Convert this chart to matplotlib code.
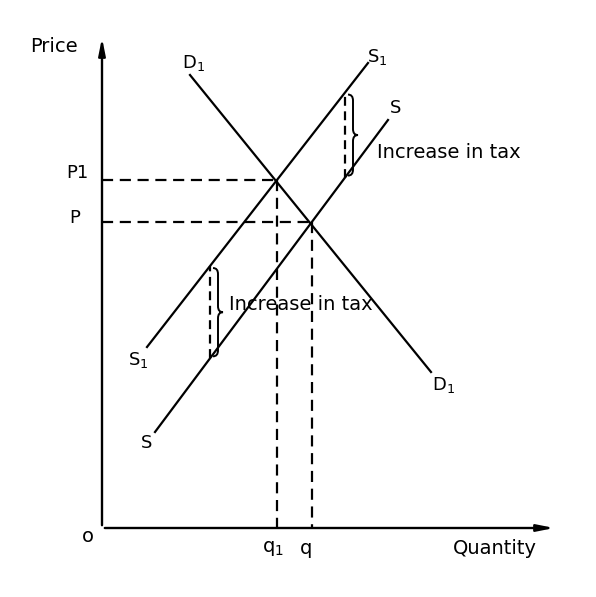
import matplotlib.pyplot as plt
from matplotlib.path import Path
from matplotlib.patches import PathPatch

# curve end points (quantity, price) in drawing units
demand_q = [88, 329]
demand_p = [453, 156]
supply_q = [53, 286]
supply_p = [96, 408]
supply1_q = [45, 266]
supply1_p = [181, 465]

# equilibria
q1, p1 = 175, 348
q0, p0 = 210, 306

# where the tax gap is marked
tax_q = [243, 108]

fig = plt.figure(figsize=(5.96, 5.97), dpi=100)
ax = fig.add_axes([0, 0, 1, 1])
ax.set_xlim(-102, 494)
ax.set_ylim(-69, 528)
ax.axis("off")

lw = 1.6
ink = "black"

# axes with arrows
ax.annotate("", xy=(455, 0), xytext=(0, 0),
            arrowprops=dict(arrowstyle="-|>,head_length=1.0,head_width=0.2", color=ink, lw=1.7))
ax.annotate("", xy=(0, 493), xytext=(0, 0),
            arrowprops=dict(arrowstyle="-|>,head_length=1.0,head_width=0.2", color=ink, lw=1.7))

# curves
ax.plot(demand_q, demand_p, color=ink, lw=lw)
ax.plot(supply_q, supply_p, color=ink, lw=lw)
ax.plot(supply1_q, supply1_p, color=ink, lw=lw)

dash = (0, (5, 3))
ax.plot([0, q1], [p1, p1], color=ink, lw=lw, ls=dash)
ax.plot([0, q0], [p0, p0], color=ink, lw=lw, ls=dash)
ax.plot([q1, q1], [p1, 0], color=ink, lw=lw, ls=dash)
ax.plot([q0, q0], [p0, 0], color=ink, lw=lw, ls=dash)


def line_at(xs, ys, x):
    return ys[0] + (ys[1] - ys[0]) * (x - xs[0]) / (xs[1] - xs[0])


def brace(x, y0, y1, w=5, r=6):
    ym = (y0 + y1) / 2
    verts = [(x - w, y1), (x, y1), (x, y1 - r),
             (x, ym + r), (x, ym), (x + w, ym),
             (x, ym), (x, ym - r),
             (x, y0 + r), (x, y0), (x - w, y0)]
    codes = [Path.MOVETO, Path.CURVE3, Path.CURVE3,
             Path.LINETO, Path.CURVE3, Path.CURVE3,
             Path.CURVE3, Path.CURVE3,
             Path.LINETO, Path.CURVE3, Path.CURVE3]
    ax.add_patch(PathPatch(Path(verts, codes), fill=False, color=ink, lw=1.4))


for tq in tax_q:
    lo = line_at(supply_q, supply_p, tq)
    hi = line_at(supply1_q, supply1_p, tq)
    ax.plot([tq, tq], [lo, hi], color=ink, lw=lw, ls=(0, (4, 2.5)))
    brace(tq + 8, lo + 2, hi - 2)

fs = 14
ax.text(275, 376, "Increase in tax", fontsize=fs, ha="left", va="center")
ax.text(127, 223, "Increase in tax", fontsize=fs, ha="left", va="center")

ax.text(-48, 482, "Price", fontsize=fs, ha="center", va="center")
ax.text(393, -21, "Quantity", fontsize=fs, ha="center", va="center")
ax.text(-14, -9, "o", fontsize=fs, ha="center", va="center")
ax.text(-25, 355, "P1", fontsize=fs - 1, ha="center", va="center")
ax.text(-27, 310, "P", fontsize=fs - 1, ha="center", va="center")
ax.text(q1 - 4, -20, "q$_1$", fontsize=fs, ha="center", va="center")
ax.text(q0 - 6, -20, "q", fontsize=fs, ha="center", va="center")

ax.text(91, 465, "D$_1$", fontsize=fs - 1, ha="center", va="center")
ax.text(341, 143, "D$_1$", fontsize=fs - 1, ha="center", va="center")
ax.text(275, 471, "S$_1$", fontsize=fs - 1, ha="center", va="center")
ax.text(36, 168, "S$_1$", fontsize=fs - 1, ha="center", va="center")
ax.text(294, 420, "S", fontsize=fs - 1, ha="center", va="center")
ax.text(45, 85, "S", fontsize=fs - 1, ha="center", va="center")

fig.savefig("out.png", dpi=100)
plt.close(fig)
